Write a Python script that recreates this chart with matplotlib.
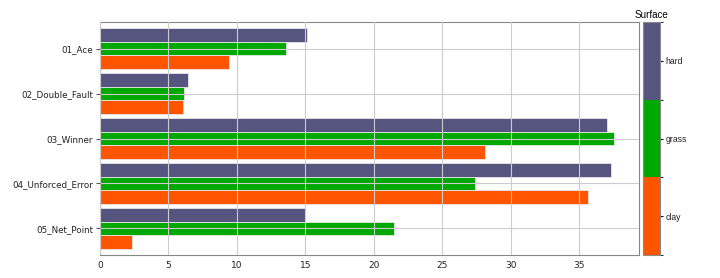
import numpy as np
import matplotlib
matplotlib.use('Agg')
import matplotlib.pyplot as plt
from matplotlib.colors import ListedColormap, BoundaryNorm
from matplotlib.cm import ScalarMappable

# Data
categories = ['01_Ace', '02_Double_Fault', '03_Winner', '04_Unforced_Error', '05_Net_Point']
surfaces = ['clay', 'grass', 'hard']
clay = [9.4, 6.05, 28.1, 35.6, 2.35]
grass = [13.55, 6.15, 37.5, 27.4, 21.5]
hard = [15.1, 6.4, 37.0, 37.3, 14.95]
colors = ['#ff5500', '#00a800', '#55557f']

fig = plt.figure(figsize=(7.2, 2.78), dpi=100)
ax = fig.add_axes([100 / 720, 23 / 278, 539 / 720, 233 / 278])
cax = fig.add_axes([643 / 720, 23 / 278, 17 / 720, 233 / 278])

y = np.arange(len(categories))
h = 0.3
series = [hard, grass, clay]
series_colors = [colors[2], colors[1], colors[0]]
for i, (vals, c) in enumerate(zip(series, series_colors)):
    ax.barh(y + (i - 1) * h, vals, height=h, color=c, edgecolor='#e8e8e8', linewidth=0.6)

ax.set_yticks(y)
ax.set_yticklabels(categories, fontsize=6.3, color='#222222')
ax.set_ylim(4.59, -0.59)
ax.set_xlim(0, 39.35)
ax.set_xticks(np.arange(0, 40, 5))
ax.tick_params(axis='x', labelsize=6.5, labelcolor='#222222', length=0, pad=4)
ax.tick_params(axis='y', length=3, color='#555555', pad=2)
ax.grid(True, color='#cccccc', linewidth=0.8)
ax.set_axisbelow(False)
for s in ax.spines.values():
    s.set_color('#888888')

cmap = ListedColormap(colors)
norm = BoundaryNorm([0, 1, 2, 3], cmap.N)
cb = fig.colorbar(ScalarMappable(norm=norm, cmap=cmap), cax=cax, ticks=[0.5, 1.5, 2.5])
cb.ax.set_yticklabels(surfaces, fontsize=6.2, family='Liberation Sans', color='#222222')
cb.ax.tick_params(length=2, pad=2)
cb.outline.set_edgecolor('#888888')
cax.set_title('Surface', fontsize=7.1, family='Liberation Sans', pad=3)

fig.savefig('out.png', dpi=100)
